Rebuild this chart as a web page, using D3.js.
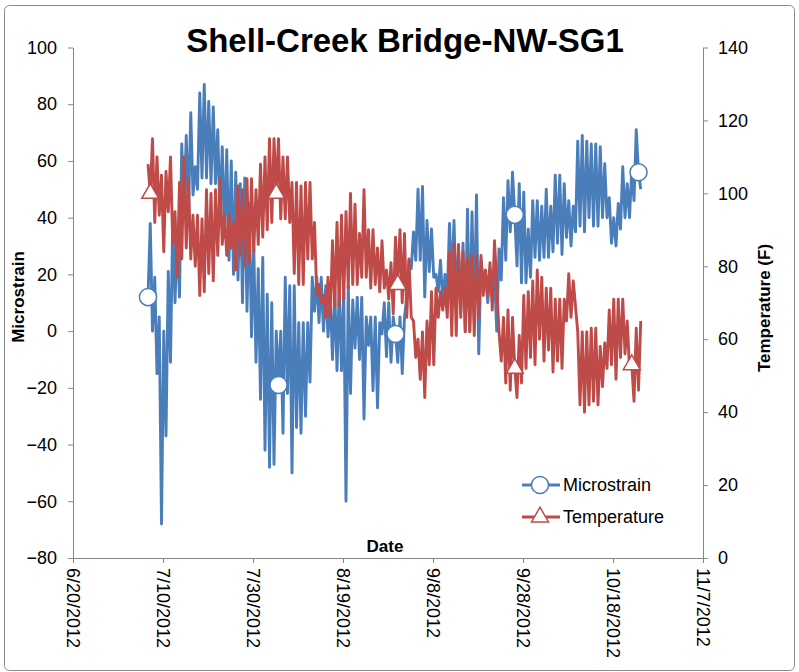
<!DOCTYPE html>
<html>
<head>
<meta charset="utf-8">
<script src="https://d3js.org/d3.v7.min.js"></script>
<style>
body { margin: 0; background: #fff; }
svg { font-family: Arial, "Liberation Sans", sans-serif; }
</style>
</head>
<body>
<svg id="chart"></svg>
<script>
// ---- data ----
var chartTitle = "Shell-Creek Bridge-NW-SG1";
var dateTicks = ["6/20/2012", "7/10/2012", "7/30/2012", "8/19/2012", "9/8/2012", "9/28/2012", "10/18/2012", "11/7/2012"];
var strainTicks = [-80, -60, -40, -20, 0, 20, 40, 60, 80, 100];
var tempTicks = [0, 20, 40, 60, 80, 100, 120, 140];

// readings every 12 hours from the first stamp
var firstReading = "7/6/2012 16:00";
var readingStepHours = 12;

var microstrain = [
  12, 38, 0, 19, -15, 5, -68, 0, -37, 21, -11, 40, 10, 34, 12, 66, 40, 69, 42, 77,
  48, 58, 50, 84, 54, 87, 54, 81, 52, 79, 52, 71, 40, 65, 33, 64, 25, 60, 20, 56,
  18, 52, 10, 54, 7, 45, -2, 30, -11, 22, -24, 26, -42, 13, -48, 10, -47, 0, -19, 0,
  -36, 19, -22, 16, -50, 16, -34, 3, -36, 3, -30, 3, -18, 19, 7, 19, 3, 19, 0, 16,
  -2, 12, -10, 14, -14, 16, -14, 14, -60, 16, -22, 11, -6, 12, -10, 12, -31, 5, -5, 5,
  -21, 5, -27, 3, -1, 10, -9, 10, -11, 5, -1, -11, 5, -15, 5, 12, 25, 22, 35, 25,
  50, 25, 51, 12, 39, 21, 36, 19, 20, 14, 25, 10, 20, 12, 38, 16, 39, 10, 29, 7,
  31, 0, 43, 0, 42, 4, 48, -8, 25, 18, 20, 10, 22, 12, 20, 0, 29, 18, 47, 25,
  53, 35, 56, 41, 23, 52, 17, 49, 17, 36, 19, 46, 26, 46, 25, 44, 26, 50, 26, 44,
  28, 55, 31, 55, 27, 52, 33, 46, 30, 44, 35, 67, 37, 69, 35, 67, 40, 66, 37, 66,
  37, 65, 40, 59, 40, 47, 31, 40, 30, 45, 36, 58, 40, 52, 40, 57, 46, 71, 56, 50
];

var temperature = [
  108, 100, 115, 92, 110, 94, 105, 84, 106, 95, 110, 86, 95, 77, 103, 82, 110, 85, 104, 82,
  94, 80, 94, 72, 93, 73, 101, 78, 100, 76, 101, 83, 104, 86, 94, 83, 94, 85, 92, 79,
  102, 83, 101, 80, 104, 81, 104, 84, 101, 86, 108, 88, 110, 90, 115, 92, 115, 100, 115, 93,
  110, 93, 110, 92, 103, 78, 103, 75, 102, 75, 103, 82, 103, 82, 92, 72, 75, 70, 72, 66,
  77, 66, 87, 69, 92, 69, 94, 71, 95, 74, 100, 75, 97, 75, 89, 77, 101, 77, 90, 74,
  90, 75, 85, 73, 87, 74, 79, 71, 81, 67, 88, 75, 90, 70, 89, 66, 82, 66, 65, 55,
  60, 49, 62, 44, 65, 53, 73, 53, 74, 66, 73, 68, 74, 66, 84, 61, 86, 61, 86, 66,
  84, 62, 82, 62, 83, 61, 83, 66, 83, 72, 79, 72, 81, 68, 87, 75, 62, 54, 66, 48,
  68, 46, 66, 52, 44, 61, 48, 72, 52, 73, 55, 76, 53, 79, 60, 77, 54, 74, 57, 74,
  51, 71, 54, 71, 52, 71, 65, 78, 66, 76, 69, 62, 42, 62, 40, 62, 42, 63, 43, 63,
  42, 58, 47, 59, 52, 68, 53, 71, 49, 71, 55, 71, 56, 65, 52, 53, 43, 63, 46, 65
];

// which readings carry a marker
var strainMarkers = [0, 58, 110, 163, 218];
var tempMarkers = [1, 57, 111, 163, 215];

var seriesNames = ["Microstrain", "Temperature"];
var seriesColors = ["#4a7ebb", "#be4b48"];

drawChart();

function drawChart(){
    var svgWidth = 799, svgHeight = 672;
    var plot = {left: 73, right: 703, top: 47.5, bottom: 558};
    var lineWidth = 2.9;

    var parseDate = d3.timeParse("%m/%d/%Y");
    var parseStamp = d3.timeParse("%m/%d/%Y %H:%M");
    var t0 = parseStamp(firstReading);

    var strainData = microstrain.map(function(v, i){
        return {date: d3.timeHour.offset(t0, i * readingStepHours), value: v};
    });
    var tempData = temperature.map(function(v, i){
        return {date: d3.timeHour.offset(t0, i * readingStepHours), value: v};
    });

    var svg = d3.select("#chart")
        .attr("width", svgWidth)
        .attr("height", svgHeight);

    // outer chart border
    svg.append("rect")
        .attr("x", 4.5).attr("y", 5.5)
        .attr("width", 790).attr("height", 665)
        .attr("rx", 5)
        .attr("fill", "#fff")
        .attr("stroke", "#8a8a8a");

    // scales
    var tickDates = dateTicks.map(parseDate);
    var x = d3.scaleTime()
        .domain([tickDates[0], tickDates[tickDates.length - 1]])
        .range([plot.left, plot.right]);
    var yLeft = d3.scaleLinear()
        .domain([strainTicks[0], strainTicks[strainTicks.length - 1]])
        .range([plot.bottom, plot.top]);
    var yRight = d3.scaleLinear()
        .domain([tempTicks[0], tempTicks[tempTicks.length - 1]])
        .range([plot.bottom, plot.top]);

    // axes
    svg.append("g")
        .attr("class", "axis")
        .attr("transform", "translate(" + plot.left + ",0)")
        .call(d3.axisLeft(yLeft).tickValues(strainTicks).tickSize(5).tickPadding(11).tickSizeOuter(0));
    svg.append("g")
        .attr("class", "axis")
        .attr("transform", "translate(" + plot.right + ",0)")
        .call(d3.axisRight(yRight).tickValues(tempTicks).tickSize(5).tickPadding(10).tickSizeOuter(0));
    var bottomAxis = svg.append("g")
        .attr("class", "axis")
        .attr("transform", "translate(0," + plot.bottom + ")")
        .call(d3.axisBottom(x).tickValues(tickDates).tickSize(5).tickSizeOuter(0)
            .tickFormat(function(d, i){ return dateTicks[i]; }));

    // date labels run downwards
    bottomAxis.selectAll(".tick text")
        .attr("transform", "rotate(90)")
        .attr("x", 10)
        .attr("y", 0)
        .attr("dy", "0.35em")
        .style("text-anchor", "start");

    svg.selectAll(".axis path, .axis line")
        .attr("stroke", "#868686")
        .attr("stroke-width", 1);
    svg.selectAll(".axis text")
        .attr("fill", "#000")
        .style("font-size", "18px")
        .style("font-family", "Arial, 'Liberation Sans', sans-serif");

    // titles
    svg.append("text")
        .attr("x", 405).attr("y", 52)
        .attr("text-anchor", "middle")
        .style("font-size", "33px").style("font-weight", "bold")
        .text(chartTitle);
    svg.append("text")
        .attr("transform", "translate(24,297) rotate(-90)")
        .attr("text-anchor", "middle")
        .style("font-size", "17px").style("font-weight", "bold")
        .text("Microstrain");
    svg.append("text")
        .attr("transform", "translate(770,308) rotate(-90)")
        .attr("text-anchor", "middle")
        .style("font-size", "17px").style("font-weight", "bold")
        .text("Temperature (F)");
    svg.append("text")
        .attr("x", 385).attr("y", 552)
        .attr("text-anchor", "middle")
        .style("font-size", "17px").style("font-weight", "bold")
        .text("Date");

    // lines
    var strainLine = d3.line()
        .x(function(d){ return x(d.date); })
        .y(function(d){ return yLeft(d.value); });
    var tempLine = d3.line()
        .x(function(d){ return x(d.date); })
        .y(function(d){ return yRight(d.value); });

    var circleSym = d3.symbol().type(d3.symbolCircle).size(230);
    var triSym = d3.symbol().type(d3.symbolTriangle).size(125);

    svg.append("path")
        .datum(strainData)
        .attr("fill", "none")
        .attr("stroke", seriesColors[0])
        .attr("stroke-width", lineWidth)
        .attr("stroke-linejoin", "round")
        .attr("d", strainLine);
    svg.selectAll(".strain-dot")
        .data(strainMarkers.map(function(i){ return strainData[i]; }))
      .enter().append("path")
        .attr("class", "strain-dot")
        .attr("transform", function(d){ return "translate(" + x(d.date) + "," + yLeft(d.value) + ")"; })
        .attr("d", circleSym)
        .attr("fill", "#fff")
        .attr("stroke", seriesColors[0])
        .attr("stroke-width", 1.5);

    svg.append("path")
        .datum(tempData)
        .attr("fill", "none")
        .attr("stroke", seriesColors[1])
        .attr("stroke-width", lineWidth)
        .attr("stroke-linejoin", "round")
        .attr("d", tempLine);
    svg.selectAll(".temp-dot")
        .data(tempMarkers.map(function(i){ return tempData[i]; }))
      .enter().append("path")
        .attr("class", "temp-dot")
        .attr("transform", function(d){ return "translate(" + x(d.date) + "," + yRight(d.value) + ")"; })
        .attr("d", triSym)
        .attr("fill", "#fff")
        .attr("stroke", seriesColors[1])
        .attr("stroke-width", 1.5);

    // legend
    var legend = svg.append("g").attr("transform", "translate(522,485)");
    var rows = legend.selectAll(".row")
        .data(seriesNames)
      .enter().append("g")
        .attr("class", "row")
        .attr("transform", function(d, i){ return "translate(0," + (i * 32) + ")"; });
    rows.append("line")
        .attr("x1", 0).attr("x2", 38)
        .attr("stroke", function(d, i){ return seriesColors[i]; })
        .attr("stroke-width", lineWidth);
    rows.append("path")
        .attr("transform", "translate(18,0)")
        .attr("d", function(d, i){ return i === 0 ? circleSym() : triSym(); })
        .attr("fill", "#fff")
        .attr("stroke", function(d, i){ return seriesColors[i]; })
        .attr("stroke-width", 1.5);
    rows.append("text")
        .attr("x", 41)
        .attr("dy", "0.35em")
        .style("font-size", "18px")
        .text(function(d){ return d; });
}
</script>
</body>
</html>
